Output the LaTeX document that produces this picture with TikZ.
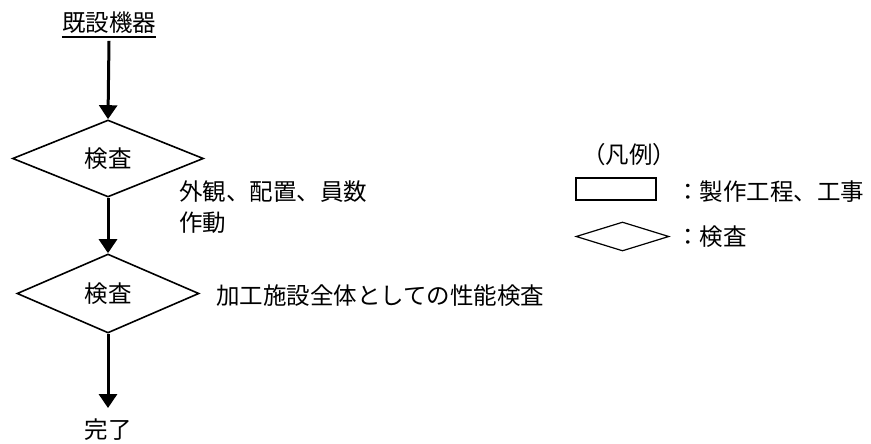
\documentclass[tikz,border=0pt]{standalone}
\usepackage{fontspec}
\newfontfamily\jp{Noto Sans CJK JP}
\usetikzlibrary{shapes.geometric,arrows.meta}
\tikzset{
  jp/.style={font=\jp\fontsize{23.5pt}{30pt}\selectfont, inner sep=0pt, text height=20.7pt, text depth=2.8pt},
  dia/.style={draw, diamond, line width=1.6pt, inner sep=0pt, jp},
  arr/.style={line width=3pt, -{Triangle[length=14pt,width=18pt]}},
}
\begin{document}
\begin{tikzpicture}[x=1pt,y=-1pt]
\useasboundingbox[fill=white] (0,0) rectangle (871,444);
% main flow
\node[jp] (t) at (109,23) {既設機器};
\draw[line width=2pt] ([yshift=-2.5pt]t.south west) -- ([yshift=-2.5pt]t.south east);
\node[dia, minimum width=191pt, minimum height=77pt] (d1) at (108,158.5) {検査};
\node[dia, minimum width=182pt, minimum height=79pt] (d2) at (108,293.5) {検査};
\node[jp, inner ysep=10pt] (end) at (108,430) {完了};
\draw[arr] ([yshift=-6pt]t.south) -- (d1.north);
\draw[arr] (d1.south) -- (d2.north);
\draw[arr] (d2.south) -- (end.north);
% labels
\node[jp, anchor=west] (l1) at (179,192) {外観、配置、員数};
\node[jp, anchor=west] (l2) at (179,223) {作動};
\node[jp, anchor=west] (l3) at (216,296) {加工施設全体としての性能検査};
% legend
\node[jp] (lg) at (629,155) {（凡例）};
\node[draw, line width=1.2pt, minimum width=80pt, minimum height=22pt, inner sep=0pt] (lr) at (616,189) {};
\node[draw, diamond, line width=1.2pt, minimum width=93pt, minimum height=29pt, inner sep=0pt] (ld) at (622.5,236.5) {};
\node[jp, anchor=west] (lrt) at (676,192) {：製作工程、工事};
\node[jp, anchor=west] (ldt) at (676,237) {：検査};
\end{tikzpicture}
\end{document}
